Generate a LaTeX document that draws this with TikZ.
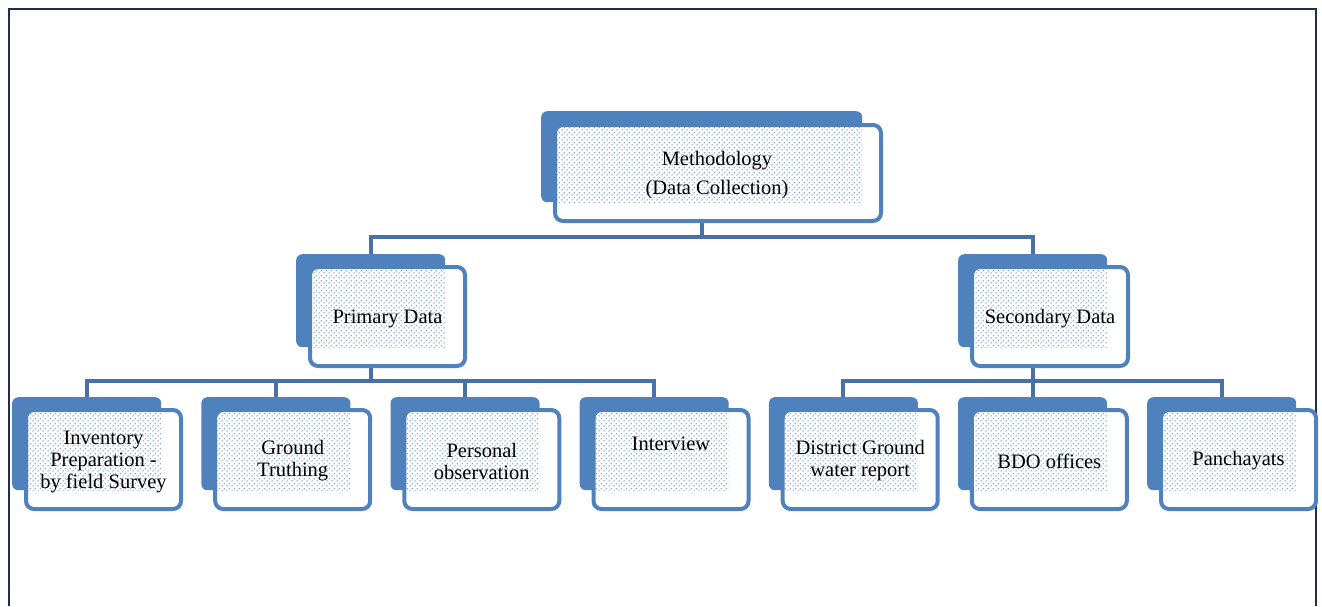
\documentclass[tikz,border=0pt]{standalone}
\usepackage{fontspec}
\setmainfont{Liberation Serif}
\usetikzlibrary{patterns.meta}
\definecolor{boxblue}{HTML}{4F81BD}
\definecolor{dotblue}{HTML}{5B8BC8}
\definecolor{connblue}{HTML}{4672A8}
\definecolor{framecol}{HTML}{1F2E4A}
\pgfdeclarelayer{bg}
\pgfsetlayers{bg,main}
\tikzdeclarepattern{
  name=bluedots, type=uncolored,
  bottom left={(0pt,0pt)}, top right={(4.6pt,4.6pt)}, tile size={(4.6pt,4.6pt)},
  code={\fill (1.15pt,1.15pt) circle (0.75pt); \fill (3.45pt,3.45pt) circle (0.75pt);}
}
\tikzset{
  backbox/.style={fill=boxblue, draw=none, rounded corners=6pt, inner sep=0pt, anchor=north west},
  frontbox/.style={fill=white, draw=boxblue, line width=4pt, rounded corners=8pt, inner sep=0pt},
  dotfill/.style={pattern={bluedots}, pattern color=dotblue},
  txt/.style={font=\fontsize{20.5}{22}\selectfont, align=center, inner sep=0pt, text=black},
  conn/.style={draw=connblue, line width=4pt},
  frameline/.style={draw=framecol, line width=2pt}
}
% #1 name, #2 shadow left, #3 shadow top, #4 shadow w, #5 shadow h, #6 front outer w, #7 front outer h, #8 dy offset
\newcommand{\orgbox}[8]{%
  \node[backbox, minimum width=#4pt, minimum height=#5pt] (#1s) at (#2,#3) {};
  \node[frontbox, minimum width=#6pt-4pt, minimum height=#7pt-4pt] (#1f) at (#2+12+#6/2, #3+#8+#7/2) {};
  \fill[dotfill] (#2+16, #3+#8+4) rectangle (#2+#4, #3+#5);
}
\begin{document}
\begin{tikzpicture}[x=1pt,y=-1pt]
\useasboundingbox (0,0) rectangle (1322,606);
\begin{pgfonlayer}{bg}
\draw[frameline] (8.5,606) -- (8.5,8.5) -- (1316,8.5) -- (1316,606);
\end{pgfonlayer}

% boxes
\orgbox{m}{541}{111}{321}{91}{330}{100}{12}
\orgbox{p}{296}{254}{149}{93}{159}{103}{11}
\orgbox{s}{958}{254}{149}{93}{160}{103}{11}
\orgbox{la}{12}{397}{149}{93}{159}{103}{11}
\orgbox{lb}{201.2}{397}{149}{93}{159}{103}{11}
\orgbox{lc}{390.3}{397}{149}{93}{159}{103}{11}
\orgbox{ld}{579.5}{397}{149}{93}{159}{103}{11}
\orgbox{le}{768.7}{397}{149}{93}{159}{103}{11}
\orgbox{lf}{957.8}{397}{149}{93}{159}{103}{11}
\orgbox{lg}{1147}{397}{149}{93}{159}{103}{11}

% texts
\node[txt] (mt) at ([xshift=-1pt,yshift=-2pt]mf.center) {Methodology\\[7pt](Data Collection)};
\node[txt] (pt) at ([yshift=-2.5pt]pf.center) {Primary Data};
\node[txt] (st) at ([yshift=-2.5pt]sf.center) {Secondary Data};
\node[txt] (lat) at ([yshift=-2pt]laf.center) {Inventory\\Preparation -\\by field Survey};
\node[txt] (lbt) at ([yshift=-1.5pt]lbf.center) {Ground\\Truthing};
\node[txt] (lct) at ([yshift=-1.5pt]lcf.center) {Personal\\observation};
\node[txt] (ldt) at ([yshift=15.5pt]ldf.center) {Interview};
\node[txt] (let) at ([yshift=-1.5pt]lef.center) {District Ground\\water report};
\node[txt] (lft) at ([yshift=-1.5pt]lff.center) {BDO offices};
\node[txt] (lgt) at ([yshift=-1.5pt]lgf.center) {Panchayats};

% connectors
\coordinate (bar1) at (701.5,237);
\coordinate (bar2) at (370.5,381);
\coordinate (bar3) at (1032.5,381);
\begin{pgfonlayer}{bg}
\draw[conn] (ms.south) -- (ms.south |- bar1);
\draw[conn] (ps.north) |- (bar1) -| (ss.north);
\draw[conn] (ps.south) -- (ps.south |- bar2);
\draw[conn] (las.north) |- (bar2) -| (lds.north);
\draw[conn] (lbs.north) -- (lbs.north |- bar2);
\draw[conn] (lcs.north) -- (lcs.north |- bar2);
\draw[conn] (ss.south) -- (ss.south |- bar3);
\draw[conn] (les.north) |- (bar3) -| (lgs.north);
\draw[conn] (lfs.north) -- (lfs.north |- bar3);
\end{pgfonlayer}
\end{tikzpicture}
\end{document}
